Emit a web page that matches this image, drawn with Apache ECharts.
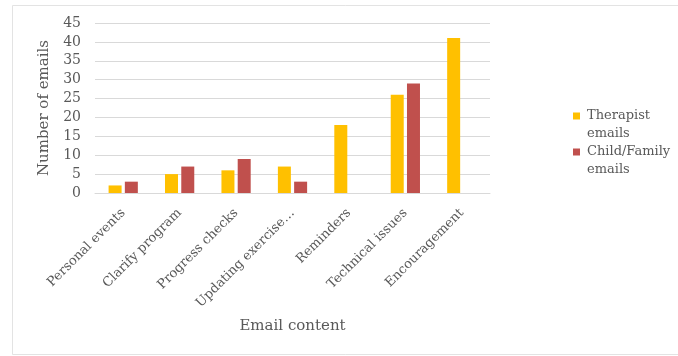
<!DOCTYPE html>
<html>
<head>
<meta charset="utf-8">
<script src="https://cdn.jsdelivr.net/npm/echarts@6/dist/echarts.min.js"></script>
<style>
  html, body { margin: 0; padding: 0; background: #fff; }
  #chart { width: 678px; height: 356px; }
</style>
</head>
<body>
<div id="chart"></div>
<script>
// Email content categories (axis labels as printed)
const categories = [
  'Personal events',
  'Clarify program',
  'Progress checks',
  'Updating exercise\u2026',
  'Reminders',
  'Technical issues',
  'Encouragement'
];

// Number of emails per category
const therapistEmails = [2, 5, 6, 7, 18, 26, 41];
const childFamilyEmails = [3, 7, 9, 3, 0, 29, 0];

const seriesNames = ['Therapist emails', 'Child/Family emails'];
const legendLines = {
  'Therapist emails': ['Therapist', 'emails'],
  'Child/Family emails': ['Child/Family', 'emails']
};

const FONT = 'DejaVu Serif';
const TEXT = '#595959';
const YELLOW = '#FFC000';
const RED = '#C0504D';

const chart = echarts.init(document.getElementById('chart'), null, { renderer: 'canvas' });

chart.setOption({
  animation: false,
  backgroundColor: '#fff',
  textStyle: { fontFamily: FONT, color: TEXT },
  graphic: [{
    type: 'rect',
    shape: { x: 12.5, y: 5.5, width: 700, height: 349 },
    style: { fill: 'none', stroke: '#e3e3e3', lineWidth: 1 },
    silent: true
  }],
  grid: { left: 95, right: 188, top: 23, bottom: 163 },
  legend: {
    orient: 'vertical',
    left: 563,
    top: 102,
    itemGap: 0,
    itemWidth: 0,
    itemHeight: 0,
    selectedMode: false,
    data: seriesNames,
    formatter: function (name) {
      const sq = name === seriesNames[0] ? 'sqT' : 'sqC';
      const l = legendLines[name];
      return '{' + sq + '|}{gap|}{t|' + l[0] + '}\n{ind|}{t|' + l[1] + '}';
    },
    textStyle: {
      fontFamily: FONT,
      fontSize: 13,
      color: TEXT,
      lineHeight: 18,
      rich: {
        sqT: { width: 7, height: 7, backgroundColor: YELLOW },
        sqC: { width: 7, height: 7, backgroundColor: RED },
        gap: { width: 7 },
        ind: { width: 14 },
        t: { fontFamily: FONT, fontSize: 13, color: TEXT, lineHeight: 18 }
      }
    }
  },
  xAxis: {
    type: 'category',
    data: categories,
    name: 'Email content',
    nameLocation: 'middle',
    nameGap: 126,
    nameTextStyle: { fontFamily: FONT, fontSize: 15, color: TEXT },
    axisLine: { show: true, lineStyle: { color: '#d9d9d9' } },
    axisTick: { show: false },
    axisLabel: {
      interval: 0,
      rotate: 45,
      margin: 18,
      fontFamily: FONT,
      fontSize: 13,
      color: TEXT
    }
  },
  yAxis: {
    type: 'value',
    min: 0,
    max: 45,
    interval: 5,
    name: 'Number of emails',
    nameLocation: 'middle',
    nameGap: 43,
    nameTextStyle: { fontFamily: FONT, fontSize: 15, color: TEXT },
    axisLine: { show: false },
    axisTick: { show: false },
    axisLabel: { fontFamily: FONT, fontSize: 14, color: TEXT, margin: 14 },
    splitLine: { lineStyle: { color: '#d9d9d9' } }
  },
  series: [
    {
      name: seriesNames[0],
      type: 'bar',
      data: therapistEmails,
      barWidth: 13,
      barGap: '25%',
      itemStyle: { color: YELLOW }
    },
    {
      name: seriesNames[1],
      type: 'bar',
      data: childFamilyEmails,
      barWidth: 13,
      barGap: '25%',
      itemStyle: { color: RED }
    }
  ]
});
</script>
</body>
</html>
